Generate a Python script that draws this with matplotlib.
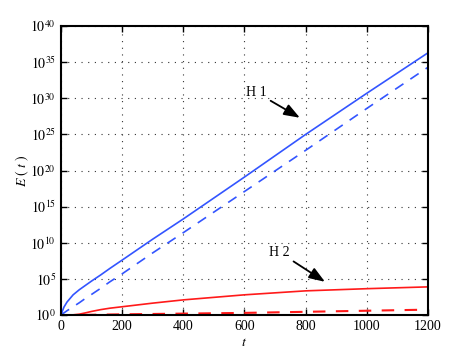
import numpy as np
import matplotlib
matplotlib.use("Agg")
import matplotlib.pyplot as plt
from matplotlib.ticker import FixedLocator, FuncFormatter, NullLocator

plt.rcParams['font.family'] = ['Liberation Serif', 'DejaVu Serif']
plt.rcParams['mathtext.fontset'] = 'stix'

# time samples
t = [0, 10, 20, 40, 60, 80, 100, 130, 160, 200, 300, 400, 600, 800, 1000, 1200]
# log10 values of E(t)
h1_solid_log = [0, 1.1, 1.8, 2.8, 3.5, 4.1, 4.7, 5.55, 6.45, 7.6, 10.5, 13.3, 19.1, 25.0, 30.7, 36.3]
h1_dash_log = [0, 0.3, 0.6, 1.15, 1.7, 2.3, 2.85, 3.7, 4.6, 5.7, 8.6, 11.4, 17.1, 22.8, 28.6, 34.3]
h2_solid_log = [0, 0.0, 0.0, 0.03, 0.12, 0.3, 0.5, 0.75, 0.95, 1.15, 1.65, 2.1, 2.8, 3.35, 3.65, 3.9]
h2_dash_log = [0, 0, 0, 0, 0, 0.02, 0.04, 0.06, 0.08, 0.1, 0.15, 0.2, 0.3, 0.45, 0.6, 0.75]

xticks = [0, 200, 400, 600, 800, 1000, 1200]
yexp = [0, 5, 10, 15, 20, 25, 30, 35, 40]

blue = '#3355ff'
red = '#ff1a1a'

fig = plt.figure(figsize=(4.72, 3.56), dpi=100)
ax = fig.add_axes([0.129, 0.115, 0.778, 0.812])

tt = np.array(t)
ax.semilogy(tt, 10.0 ** np.array(h1_solid_log), color=blue, lw=1.2)
ax.semilogy(tt, 10.0 ** np.array(h1_dash_log), color=blue, lw=1.2, ls=(0, (6, 5)))
ax.semilogy(tt, 10.0 ** np.array(h2_solid_log), color=red, lw=1.2)
ax.semilogy(tt, 10.0 ** np.array(h2_dash_log), color=red, lw=1.5, ls=(0, (6, 5)))

ax.set_xlim(0, 1200)
ax.set_ylim(1, 1e40)
ax.xaxis.set_major_locator(FixedLocator(xticks))
ax.yaxis.set_major_locator(FixedLocator([10.0 ** e for e in yexp]))
ax.yaxis.set_minor_locator(NullLocator())
ax.yaxis.set_major_formatter(FuncFormatter(lambda v, p: r'$10^{%d}$' % round(np.log10(v))))

ax.grid(True, which='major', color='#333333', ls=(0, (1, 5)), lw=0.8)
ax.tick_params(direction='in', top=True, right=True, length=4, width=1, labelsize=10)
for s in ax.spines.values():
    s.set_linewidth(1.5)

ax.set_xlabel(r'$t$', fontsize=10, labelpad=2)
ax.set_ylabel(r'$E\ (\ t\ )$', fontsize=10)
ax.yaxis.set_label_coords(-0.082, 0.5)

arrow = dict(arrowstyle='-|>,head_length=0.6,head_width=0.22', color='k', lw=1.3,
             mutation_scale=16, shrinkA=1, shrinkB=0)
ax.annotate('H 1', xy=(781, 10 ** 27.3), xytext=(605, 10 ** 30.8),
            fontsize=10, ha='left', va='center', arrowprops=arrow)
ax.annotate('H 2', xy=(863, 10 ** 4.6), xytext=(680, 10 ** 8.7),
            fontsize=10, ha='left', va='center', arrowprops=arrow)

fig.savefig('out.png', dpi=100)
